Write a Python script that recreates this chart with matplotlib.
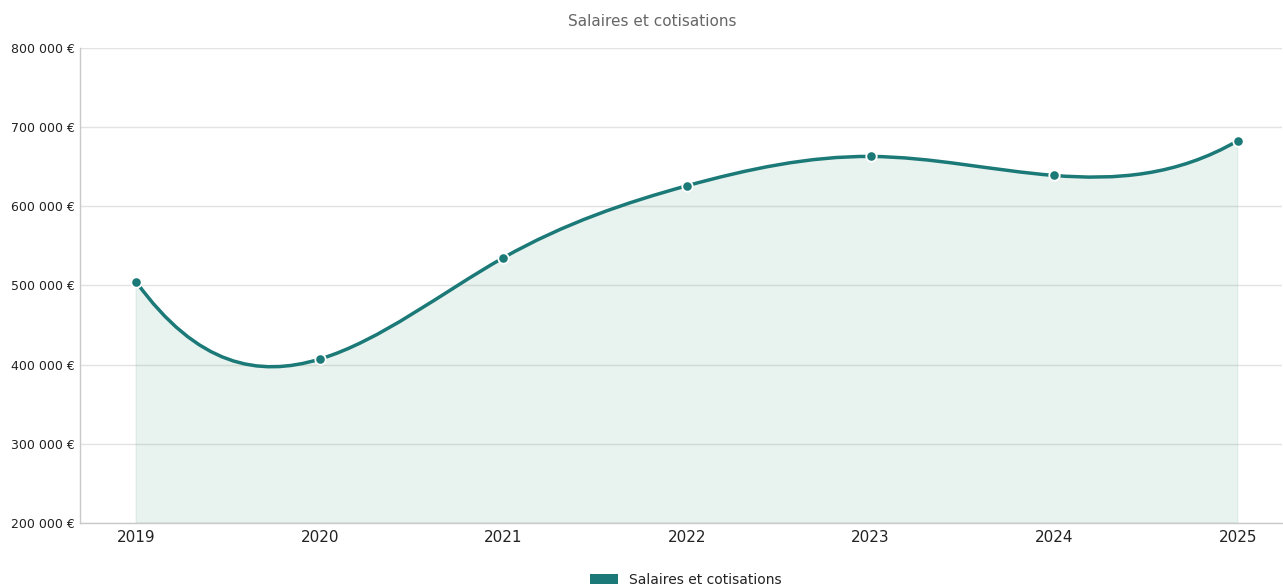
import numpy as np
import matplotlib
matplotlib.use("Agg")
import matplotlib.pyplot as plt
from matplotlib.path import Path
from matplotlib.patches import PathPatch, Rectangle

# Data
years = ["2019", "2020", "2021", "2022", "2023", "2024", "2025"]
values = [505000, 407000, 535000, 626000, 663000, 639000, 683000]
y_ticks = [200000, 300000, 400000, 500000, 600000, 700000, 800000]
series_name = "Salaires et cotisations"
chart_title = "Salaires et cotisations"

LINE = "#1b7a78"
FILL = (0.18, 0.55, 0.40, 0.11)
GRID = "#e3e3e3"
AXIS = "#c9c9c9"

W, H = 1283, 584
fig = plt.figure(figsize=(W / 100, H / 100), dpi=100)
ax = fig.add_axes([80 / W, 61 / H, (1282 - 80) / W, 475 / H])

x = np.arange(len(years), dtype=float)
ax.set_xlim(-0.305, 6.24)
ax.set_ylim(y_ticks[0], y_ticks[-1])


def not_a_knot_bezier(xs, ys):
    """Cubic not-a-knot spline through the points, as bezier segments (unit spacing)."""
    ys = np.asarray(ys, dtype=float)
    n = len(ys)
    A = np.zeros((n, n))
    b = np.zeros(n)
    A[0, 0:3] = [1, -2, 1]
    A[-1, -3:] = [1, -2, 1]
    for i in range(1, n - 1):
        A[i, i - 1:i + 2] = [1, 4, 1]
        b[i] = 6 * (ys[i - 1] - 2 * ys[i] + ys[i + 1])
    M = np.linalg.solve(A, b)
    m = np.empty(n)
    for i in range(n - 1):
        m[i] = (ys[i + 1] - ys[i]) - (2 * M[i] + M[i + 1]) / 6
    m[-1] = (ys[-1] - ys[-2]) + (M[-2] + 2 * M[-1]) / 6
    verts = [(xs[0], ys[0])]
    codes = [Path.MOVETO]
    for i in range(n - 1):
        h = xs[i + 1] - xs[i]
        verts += [(xs[i] + h / 3, ys[i] + m[i] * h / 3),
                  (xs[i + 1] - h / 3, ys[i + 1] - m[i + 1] * h / 3),
                  (xs[i + 1], ys[i + 1])]
        codes += [Path.CURVE4] * 3
    return np.array(verts), codes


verts, codes = not_a_knot_bezier(x, values)

# Area under the curve
fv = np.vstack([verts, [[x[-1], y_ticks[0]], [x[0], y_ticks[0]], verts[0]]])
fc = codes + [Path.LINETO, Path.LINETO, Path.CLOSEPOLY]
ax.add_patch(PathPatch(Path(fv, fc), facecolor=FILL,
                       edgecolor=(0.18, 0.55, 0.40, 0.08), lw=1.0, zorder=2))

# Curve and points
ax.add_patch(PathPatch(Path(verts, codes), facecolor="none", edgecolor=LINE,
                       lw=2.5, capstyle="round", joinstyle="round", zorder=3))
ax.plot(x, values, linestyle="none", marker="o", markersize=7.5,
        markerfacecolor=LINE, markeredgecolor="white", markeredgewidth=1.3,
        zorder=4, clip_on=False)

# Axes styling
ax.set_yticks(y_ticks)
ax.set_yticklabels([f"{v:,.0f}".replace(",", " ") + " €" for v in y_ticks],
                   fontsize=9, color="#222222")
ax.set_xticks(x)
ax.set_xticklabels(years, fontsize=11, color="#222222")
ax.tick_params(axis="y", length=0, pad=4)
ax.tick_params(axis="x", length=0, pad=5)
ax.yaxis.grid(True, color=GRID, lw=1)
ax.xaxis.grid(False)
ax.set_axisbelow(True)
for side in ("top", "right"):
    ax.spines[side].set_visible(False)
for side in ("left", "bottom"):
    ax.spines[side].set_color(AXIS)
    ax.spines[side].set_linewidth(1)

fig.text(652 / W, 1 - 21 / H, chart_title, ha="center", va="center",
         fontsize=11, color="#666666")

# Legend below the plot
fig.patches.append(Rectangle((590 / W, 1 - 590 / H), 28 / W, 16 / H,
                             transform=fig.transFigure, facecolor=LINE,
                             edgecolor="none"))
fig.text(629 / W, 1 - 580 / H, series_name, ha="left", va="center",
         fontsize=10, color="#222222")

fig.savefig("out.png", dpi=100)
